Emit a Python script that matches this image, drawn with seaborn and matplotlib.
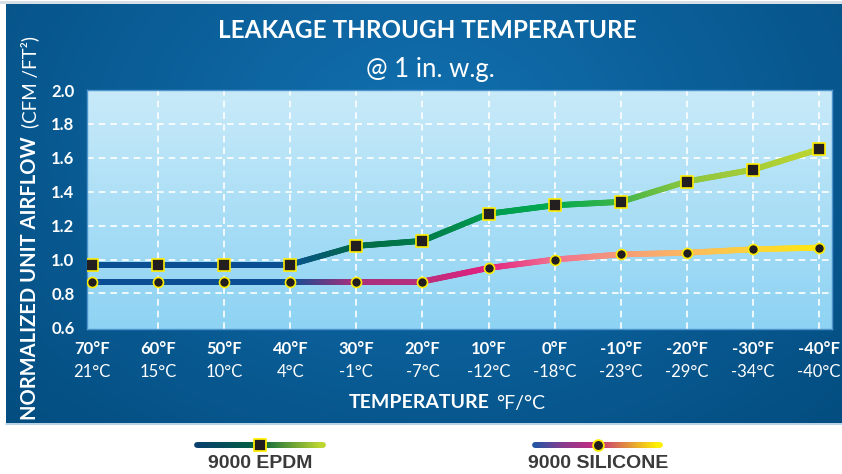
import matplotlib
matplotlib.use("Agg")
import matplotlib.pyplot as plt
import numpy as np
import pandas as pd
import seaborn as sns
from matplotlib.collections import LineCollection
from matplotlib.colors import to_rgb

temps_f = ["70°F", "60°F", "50°F", "40°F", "30°F", "20°F", "10°F", "0°F",
           "-10°F", "-20°F", "-30°F", "-40°F"]
temps_c = ["21°C", "15°C", "10°C", "4°C", "-1°C", "-7°C", "-12°C", "-18°C",
           "-23°C", "-29°C", "-34°C", "-40°C"]
epdm = [0.97, 0.97, 0.97, 0.97, 1.08, 1.11, 1.27, 1.32, 1.34, 1.46, 1.53, 1.65]
silicone = [0.87, 0.87, 0.87, 0.87, 0.87, 0.87, 0.95, 1.00, 1.03, 1.04, 1.06, 1.07]
y_ticks = [0.6, 0.8, 1.0, 1.2, 1.4, 1.6, 1.8, 2.0]

# colour of the line at each point (drawn as a gradient between them)
epdm_colors = ["#0a4f94", "#0a4f94", "#0a4f94", "#0a4f94", "#006a47", "#007a4a",
               "#009b50", "#00aa4f", "#3fb449", "#8cc63e", "#a6cc38", "#bdd631"]
sil_colors = ["#0a4f94", "#0a4f94", "#0a4f94", "#0a4f94", "#a8307c", "#b8307c",
              "#e3207f", "#f07090", "#f59a7a", "#fbb862", "#fdd23c", "#ffe70f"]

W, H = 842, 474
sns.set_theme(style="white")
plt.rcParams["font.family"] = ["Lato", "DejaVu Sans"]


def gradient_line(ax, x, y, colors, lw, n=40, zorder=3):
    segs, cols = [], []
    for i in range(len(x) - 1):
        c0, c1 = np.array(to_rgb(colors[i])), np.array(to_rgb(colors[i + 1]))
        t = np.linspace(0, 1, n + 1)
        xs = x[i] + (x[i + 1] - x[i]) * t
        ys = y[i] + (y[i + 1] - y[i]) * t
        for k in range(n):
            segs.append([(xs[k], ys[k]), (xs[k + 1], ys[k + 1])])
            cols.append(c0 + (c1 - c0) * (k + 0.5) / n)
    lc = LineCollection(segs, colors=cols, linewidths=lw, capstyle="round", zorder=zorder)
    ax.add_collection(lc)


fig = plt.figure(figsize=(W / 100, H / 100), dpi=100)
fig.patch.set_facecolor("white")

# background panel in pixel coordinates
bg = fig.add_axes([0, 0, 1, 1], zorder=0)
bg.set_xlim(0, W)
bg.set_ylim(H, 0)
bg.axis("off")
gx, gy = np.meshgrid(np.linspace(0, 1, 300), np.linspace(0, 1, 150))
d = np.clip(np.sqrt(((gx - 0.5) / 0.75) ** 2 + ((gy - 0.3) / 1.1) ** 2), 0, 1)
light, dark = np.array(to_rgb("#1270b0")), np.array(to_rgb("#024a7c"))
img = light * (1 - d[..., None]) + dark * d[..., None]
bg.imshow(img, extent=[6, W, 423, 4], aspect="auto", zorder=0)
bg.plot([6, W], [423.5, 423.5], color="#a9cce3", lw=1.2, zorder=1)
bg.plot([0, W], [1.5, 1.5], color="#d5dde5", lw=2, zorder=1)

# legend swatches
leg_y = 445
gradient_line(bg, [197, 260, 323], [leg_y] * 3, ["#0a3f70", "#00603f", "#bed630"], 4.2, zorder=2)
gradient_line(bg, [535, 566, 598, 660], [leg_y] * 4,
              ["#1f57a6", "#8a3c8e", "#c42a80", "#fff200"], 4.2, zorder=2)
bg.scatter([260], [leg_y], marker="s", s=80, color="#231f20", edgecolors="#ffed00",
           linewidths=1.3, zorder=3)
bg.scatter([598], [leg_y], marker="o", s=60, color="#231f20", edgecolors="#ffed00",
           linewidths=1.3, zorder=3)
bg.text(260, 463, "9000 EPDM", ha="center", va="center", fontsize=14, fontweight="bold",
        color="#3a3a3a", family=["Liberation Sans", "DejaVu Sans"])
bg.text(598, 463, "9000 SILICONE", ha="center", va="center", fontsize=14, fontweight="bold",
        color="#3a3a3a", family=["Liberation Sans", "DejaVu Sans"])

# main plot
left, right, top, bottom = 87, 832, 90, 329
ax = fig.add_axes([left / W, (H - bottom) / H, (right - left) / W, (bottom - top) / H], zorder=1)
x = np.arange(len(temps_f))
grad = np.linspace(0, 1, 100)[:, None]
top_c, bot_c = np.array(to_rgb("#c8eaf9")), np.array(to_rgb("#8ed3f3"))
pa = top_c * (1 - grad[..., None]) + bot_c * grad[..., None]
ax.imshow(pa, extent=[-0.076, 11.197, 0.59, 2.0], aspect="auto", zorder=0)
ax.set_xlim(-0.076, 11.197)
ax.set_ylim(0.59, 2.0)

for xi in x[1:]:
    ax.axvline(xi, color="white", lw=1.2, ls=(0, (4, 3)), zorder=1)
for yv in y_ticks[1:-1]:
    ax.axhline(yv, color="white", lw=1.2, ls=(0, (4, 3)), zorder=1)

gradient_line(ax, x, epdm, epdm_colors, 4.2)
gradient_line(ax, x, silicone, sil_colors, 4.2)

df = pd.DataFrame({"x": np.concatenate([x, x]),
                   "value": epdm + silicone,
                   "material": ["9000 EPDM"] * len(x) + ["9000 SILICONE"] * len(x)})
sns.scatterplot(data=df[df.material == "9000 EPDM"], x="x", y="value", marker="s", s=72,
                color="#231f20", edgecolor="#ffed00", linewidth=1.2, ax=ax, zorder=4, legend=False)
sns.scatterplot(data=df[df.material == "9000 SILICONE"], x="x", y="value", marker="o", s=52,
                color="#231f20", edgecolor="#ffed00", linewidth=1.2, ax=ax, zorder=4, legend=False)

ax.set_xticks(x)
ax.set_xticklabels(temps_f, fontsize=12, fontweight="bold", color="white")
ax.set_yticks(y_ticks)
ax.set_yticklabels([f"{v:.1f}" for v in y_ticks], fontsize=12, fontweight="bold", color="white")
ax.tick_params(axis="x", length=0, pad=9)
ax.tick_params(axis="y", length=0, pad=9)
ax.set_xlabel("")
ax.set_ylabel("")
for s in ax.spines.values():
    s.set_color("#4d95cc")
    s.set_linewidth(1)
for xi, c in zip(x, temps_c):
    ax.text(xi, -0.18, c, transform=ax.get_xaxis_transform(), ha="center", va="center",
            fontsize=12, color="white")

# titles
fig.text(0.5 * (222 + 632) / W, 1 - 30 / H, "LEAKAGE THROUGH TEMPERATURE", ha="center",
         va="center", fontsize=17.5, fontweight="bold", color="white")
fig.text(430 / W, 1 - 70 / H, "@ 1 in. w.g.", ha="center", va="center", fontsize=18.5,
         color="white")

renderer = fig.canvas.get_renderer()

# x axis label: bold + regular
xb = fig.text(0, 1 - 403 / H, "TEMPERATURE", ha="left", va="center", fontsize=14,
              fontweight="bold", color="white")
xr = fig.text(0, 1 - 403 / H, "°F/°C", ha="left", va="center", fontsize=14, color="white")
w1 = xb.get_window_extent(renderer).width
w2 = xr.get_window_extent(renderer).width
gap = 7
x0 = 447 - (w1 + gap + w2) / 2
xb.set_x(x0 / W)
xr.set_x((x0 + w1 + gap) / W)

# y axis label: bold + regular, rotated
yb = fig.text(30 / W, 54 / H, "NORMALIZED UNIT AIRFLOW", rotation=90, rotation_mode="anchor",
              ha="left", va="center", fontsize=14.5, fontweight="bold", color="white")
h1 = yb.get_window_extent(renderer).height
fig.text(30 / W, (54 + h1 + 8) / H, "(CFM /FT²)", rotation=90, rotation_mode="anchor",
         ha="left", va="center", fontsize=13.5, color="white")

fig.savefig("out.png", dpi=100, facecolor="white")
